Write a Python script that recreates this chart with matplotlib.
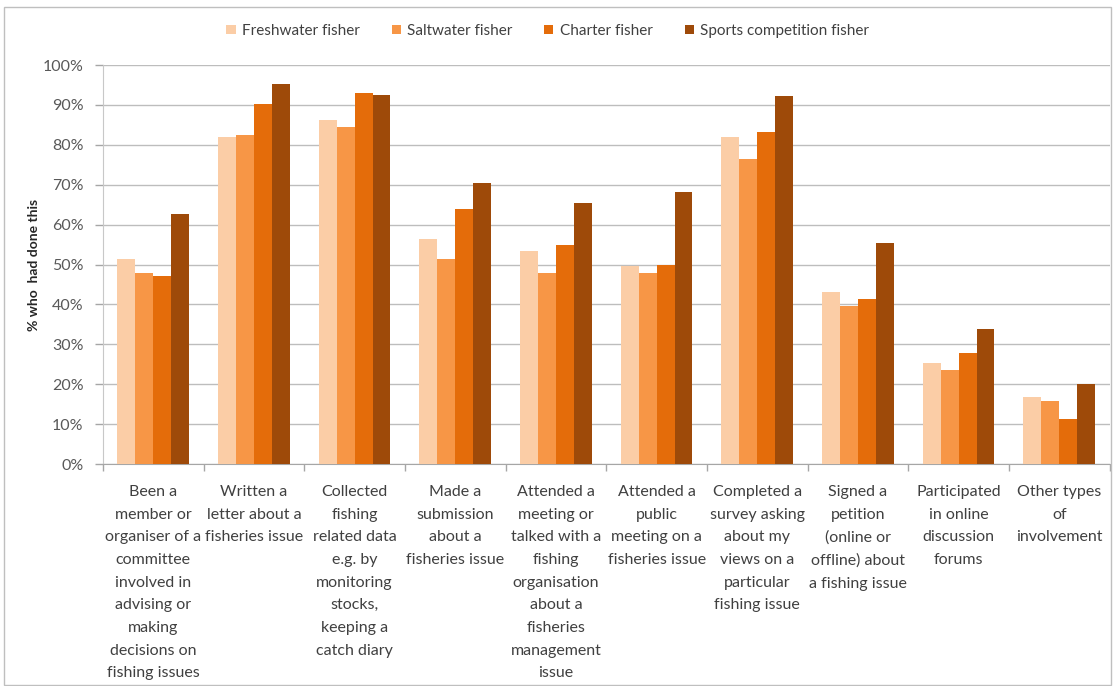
import matplotlib
matplotlib.use("Agg")
import matplotlib.pyplot as plt
import numpy as np
from matplotlib.patches import Rectangle

plt.rcParams['font.family'] = ['Lato', 'DejaVu Sans']

categories = [
    "Been a\nmember or\norganiser of a\ncommittee\ninvolved in\nadvising or\nmaking\ndecisions on\nfishing issues",
    "Written a\nletter about a\nfisheries issue",
    "Collected\nfishing\nrelated data\ne.g. by\nmonitoring\nstocks,\nkeeping a\ncatch diary",
    "Made a\nsubmission\nabout a\nfisheries issue",
    "Attended a\nmeeting or\ntalked with a\nfishing\norganisation\nabout a\nfisheries\nmanagement\nissue",
    "Attended a\npublic\nmeeting on a\nfisheries issue",
    "Completed a\nsurvey asking\nabout my\nviews on a\nparticular\nfishing issue",
    "Signed a\npetition\n(online or\noffline) about\na fishing issue",
    "Participated\nin online\ndiscussion\nforums",
    "Other types\nof\ninvolvement",
]

series_names = ["Freshwater fisher", "Saltwater fisher", "Charter fisher",
                "Sports competition fisher"]

freshwater = [51.5, 82.0, 86.3, 56.3, 53.3, 49.7, 82.0, 43.0, 25.4, 16.8]
saltwater = [48.0, 82.5, 84.5, 51.5, 48.0, 47.8, 76.5, 39.6, 23.5, 15.7]
charter = [47.0, 90.3, 93.0, 64.0, 55.0, 50.0, 83.3, 41.4, 27.9, 11.4]
sports = [62.7, 95.3, 92.5, 70.5, 65.3, 68.3, 92.3, 55.5, 33.9, 20.0]

yticks = [0, 10, 20, 30, 40, 50, 60, 70, 80, 90, 100]
ytick_labels = [f"{v}%" for v in yticks]

colors = ["#FBCDA6", "#F79646", "#E46C0A", "#9E4A09"]

fig = plt.figure(figsize=(11.13, 6.86), dpi=100)
ax = fig.add_axes([0.0925, 0.3236, 0.9045, 0.5816])

# outer chart border
fig.patches.append(Rectangle((0.004, 0.002), 0.994, 0.988, transform=fig.transFigure,
                             fill=False, edgecolor="#BFBFBF", linewidth=1.0))

n = len(categories)
x = np.arange(n)
bar_w = 0.178
all_series = [freshwater, saltwater, charter, sports]
for i, (vals, name, col) in enumerate(zip(all_series, series_names, colors)):
    offs = (i - 1.5) * bar_w
    ax.bar(x + offs, vals, width=bar_w, color=col, label=name, zorder=3)

ax.set_xlim(-0.5, n - 0.5)
ax.set_ylim(0, 100)
ax.set_yticks(yticks)
ax.set_yticklabels(ytick_labels, fontsize=11.5, color="#595959")
ax.yaxis.grid(True, color="#BDBDBD", linewidth=1.0, zorder=0)
ax.set_axisbelow(True)

# category labels centred under each group
ax.set_xticks(x)
ax.set_xticklabels(categories, fontsize=11.5, color="#404040", linespacing=1.79,
                   va="top")
ax.tick_params(axis="x", length=0, pad=15)
# tick marks on the boundaries between groups
ax.set_xticks(np.arange(n + 1) - 0.5, minor=True)
ax.tick_params(axis="x", which="minor", length=5, color="#A6A6A6", width=1)
ax.tick_params(axis="y", length=6, color="#A6A6A6", width=1, pad=8)

for s in ["top", "right"]:
    ax.spines[s].set_visible(False)
ax.spines["left"].set_color("#C8C8C8")
ax.spines["bottom"].set_color("#A6A6A6")

ax.set_ylabel("% who  had done this", fontsize=10, fontweight="bold",
              color="#262626", labelpad=2)

leg = fig.legend(loc="center", bbox_to_anchor=(0.492, 0.955), ncol=4, frameon=False,
                 fontsize=11, handlelength=0.6, handleheight=0.6,
                 columnspacing=2.1, handletextpad=0.4)
for t in leg.get_texts():
    t.set_color("#404040")

fig.savefig("out.png", dpi=100)
